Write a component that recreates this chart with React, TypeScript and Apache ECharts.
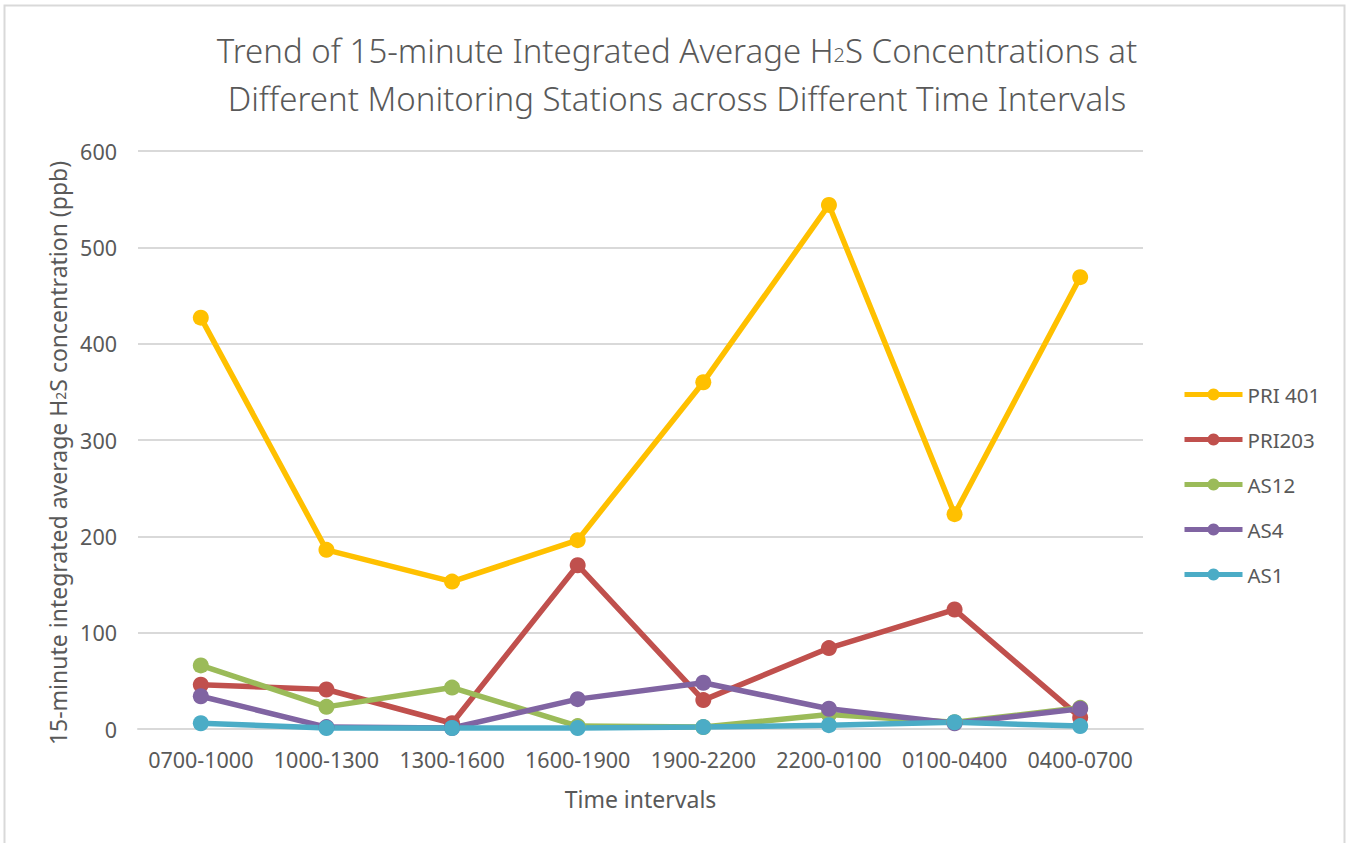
import React, { useEffect, useRef } from "react";
import * as echarts from "echarts";

const categories = ["0700-1000", "1000-1300", "1300-1600", "1600-1900", "1900-2200", "2200-0100", "0100-0400", "0400-0700"];
const seriesNames = ["PRI 401", "PRI203", "AS12", "AS4", "AS1"];
const pri401 = [427, 186, 153, 196, 360, 544, 223, 469];
const pri203 = [46, 41, 6, 170, 30, 84, 124, 12];
const as12 = [66, 23, 43, 3, 2, 15, 7, 22];
const as4 = [34, 2, 1, 31, 48, 21, 6, 21];
const as1 = [6, 1, 1, 1, 2, 4, 7, 3];
const yTicks = { min: 0, max: 600, interval: 100 };

const colors = ["#FFC000", "#C0504D", "#9BBB59", "#8064A2", "#4BACC6"];
const FONT = "'Noto Sans', sans-serif";
const TXT = "#595959";

export default function App() {
  const ref = useRef<HTMLDivElement>(null);
  useEffect(() => {
    if (!ref.current) return;
    const chart = echarts.init(ref.current, undefined, { renderer: "svg" });
    const datasets = [pri401, pri203, as12, as4, as1];
    chart.setOption({
      animation: false,
      backgroundColor: "#ffffff",
      textStyle: { fontFamily: FONT, color: TXT },
      title: {
        text: "Trend of 15-minute Integrated Average H{sub|2}S Concentrations at\nDifferent Monitoring Stations across Different Time Intervals",
        left: "center",
        top: 21,
        textStyle: {
          fontFamily: FONT,
          fontSize: 33,
          fontWeight: 300,
          color: TXT,
          lineHeight: 48,
          rich: {
            sub: {
              fontFamily: FONT,
              fontSize: 20,
              fontWeight: 300,
              color: TXT,
              lineHeight: 20,
              verticalAlign: "middle",
              padding: [9, 0, 0, 0],
            },
          },
        },
      },
      graphic: [
        {
          type: "rect",
          shape: { x: 4.5, y: 5.5, width: 1340, height: 860 },
          style: { fill: "none", stroke: "#d9d9d9", lineWidth: 2 },
          silent: true,
        },
      ],
      grid: { left: 138, top: 151, width: 1005, height: 578, containLabel: false },
      legend: {
        orient: "vertical",
        left: 1177,
        top: 379,
        itemWidth: 58,
        itemHeight: 15,
        itemGap: 24,
        data: seriesNames,
        lineStyle: { width: 5 },
        textStyle: { fontFamily: FONT, fontSize: 20.5, color: TXT },
      },
      xAxis: {
        type: "category",
        data: categories,
        boundaryGap: true,
        axisLine: { show: true, lineStyle: { color: "#d9d9d9", width: 2 } },
        axisTick: { show: false },
        axisLabel: { fontFamily: FONT, fontSize: 21.5, color: TXT, margin: 19, interval: 0 },
        name: "Time intervals",
        nameLocation: "middle",
        nameGap: 58,
        nameTextStyle: { fontFamily: FONT, fontSize: 23, color: TXT },
      },
      yAxis: {
        type: "value",
        min: yTicks.min,
        max: yTicks.max,
        interval: yTicks.interval,
        axisLine: { show: false },
        axisTick: { show: false },
        splitLine: { lineStyle: { color: "#d9d9d9", width: 2 } },
        axisLabel: { fontFamily: FONT, fontSize: 21.5, color: TXT, margin: 21 },
        name: "15-minute integrated average H{sub|2}S concentration (ppb)",
        nameLocation: "middle",
        nameGap: 68,
        nameTextStyle: {
          fontFamily: FONT,
          fontSize: 23,
          color: TXT,
          padding: [0, 26, 0, 0],
          rich: {
            sub: {
              fontFamily: FONT,
              fontSize: 14,
              color: TXT,
              lineHeight: 14,
              verticalAlign: "middle",
              padding: [6, 0, 0, 0],
            },
          },
        },
      },
      series: seriesNames.map((name, i) => ({
        name,
        type: "line",
        data: datasets[i],
        color: colors[i],
        symbol: "circle",
        symbolSize: 16,
        lineStyle: { width: 5.5, color: colors[i] },
        itemStyle: { color: colors[i] },
      })),
    });
    return () => chart.dispose();
  }, []);
  return <div ref={ref} style={{ position: "absolute", left: 0, top: 0, width: 1354, height: 843 }} />;
}
